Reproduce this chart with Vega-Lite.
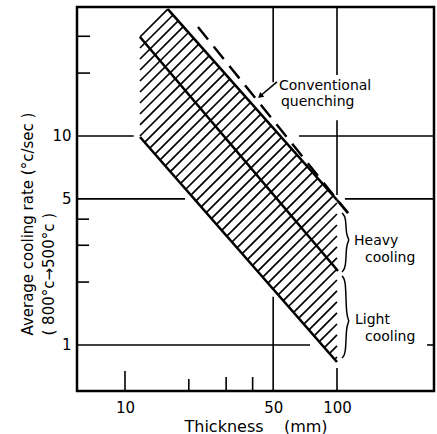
{
  "$schema": "https://vega.github.io/schema/vega-lite/v6.json",
  "width": 357,
  "height": 384,
  "autosize": {"type": "none"},
  "padding": {"left": 77, "top": 7, "right": 3, "bottom": 43},
  "background": "white",
  "config": {
    "font": "DejaVu Sans",
    "view": {"stroke": "black", "strokeWidth": 2.5},
    "axis": {"labelFont": "DejaVu Sans", "titleFont": "DejaVu Sans", "labelColor": "black", "titleColor": "black", "titleFontWeight": "normal"}
  },
  "datasets": {
    "grid": [
      {"x": 5.938, "x2": 11.0, "y": 10, "y2": 10},
      {"x": 66.2, "x2": 286.8, "y": 10, "y2": 10},
      {"x": 5.938, "x2": 19.2, "y": 5, "y2": 5},
      {"x": 109, "x2": 286.8, "y": 5, "y2": 5},
      {"x": 5.938, "x2": 74.6, "y": 1, "y2": 1},
      {"x": 266, "x2": 286.8, "y": 1, "y2": 1},
      {"x": 50, "x2": 50, "y": 41.42, "y2": 18.1},
      {"x": 50, "x2": 50, "y": 0.6022, "y2": 1.70},
      {"x": 100, "x2": 100, "y": 41.42, "y2": 19.6},
      {"x": 100, "x2": 100, "y": 11.9, "y2": 5.22},
      {"x": 100, "x2": 100, "y": 0.6022, "y2": 0.776},
      {"x": 10, "x2": 10, "y": 0.6022, "y2": 0.751},
      {"x": 20, "x2": 20, "y": 0.6022, "y2": 0.688},
      {"x": 30, "x2": 30, "y": 0.6022, "y2": 0.703},
      {"x": 40, "x2": 40, "y": 0.6022, "y2": 0.703},
      {"x": 5.938, "x2": 6.84, "y": 30, "y2": 30},
      {"x": 5.938, "x2": 6.84, "y": 20, "y2": 20},
      {"x": 5.938, "x2": 6.77, "y": 4, "y2": 4},
      {"x": 5.938, "x2": 6.77, "y": 3, "y2": 3},
      {"x": 5.938, "x2": 6.77, "y": 2, "y2": 2}
    ],
    "hatch": [
      {"x": 11.77, "y": 29.76, "x2": 15.92, "y2": 40.43},
      {"x": 11.77, "y": 26.37, "x2": 16.84, "y2": 37.92},
      {"x": 11.77, "y": 23.36, "x2": 17.81, "y2": 35.56},
      {"x": 11.77, "y": 20.69, "x2": 18.84, "y2": 33.34},
      {"x": 11.77, "y": 18.33, "x2": 19.93, "y2": 31.27},
      {"x": 11.77, "y": 16.24, "x2": 21.08, "y2": 29.32},
      {"x": 11.77, "y": 14.38, "x2": 22.29, "y2": 27.50},
      {"x": 11.77, "y": 12.74, "x2": 23.58, "y2": 25.79},
      {"x": 11.77, "y": 11.29, "x2": 24.94, "y2": 24.18},
      {"x": 11.77, "y": 10.00, "x2": 26.38, "y2": 22.68},
      {"x": 12.38, "y": 9.326, "x2": 27.91, "y2": 21.27},
      {"x": 13.09, "y": 8.743, "x2": 29.52, "y2": 19.94},
      {"x": 13.84, "y": 8.196, "x2": 31.22, "y2": 18.70},
      {"x": 14.64, "y": 7.683, "x2": 33.03, "y2": 17.54},
      {"x": 15.48, "y": 7.202, "x2": 34.94, "y2": 16.45},
      {"x": 16.36, "y": 6.752, "x2": 36.95, "y2": 15.42},
      {"x": 17.30, "y": 6.329, "x2": 39.09, "y2": 14.46},
      {"x": 18.30, "y": 5.933, "x2": 41.34, "y2": 13.57},
      {"x": 19.35, "y": 5.562, "x2": 43.73, "y2": 12.72},
      {"x": 20.46, "y": 5.214, "x2": 46.26, "y2": 11.93},
      {"x": 21.63, "y": 4.888, "x2": 48.93, "y2": 11.19},
      {"x": 22.87, "y": 4.582, "x2": 51.75, "y2": 10.49},
      {"x": 24.18, "y": 4.295, "x2": 54.74, "y2": 9.838},
      {"x": 25.57, "y": 4.027, "x2": 57.90, "y2": 9.226},
      {"x": 27.03, "y": 3.775, "x2": 61.25, "y2": 8.652},
      {"x": 28.59, "y": 3.538, "x2": 64.79, "y2": 8.114},
      {"x": 30.23, "y": 3.317, "x2": 68.53, "y2": 7.609},
      {"x": 31.96, "y": 3.110, "x2": 72.49, "y2": 7.136},
      {"x": 33.79, "y": 2.915, "x2": 76.67, "y2": 6.691},
      {"x": 35.73, "y": 2.733, "x2": 81.10, "y2": 6.275},
      {"x": 37.78, "y": 2.562, "x2": 85.78, "y2": 5.885},
      {"x": 39.95, "y": 2.401, "x2": 90.74, "y2": 5.519},
      {"x": 42.24, "y": 2.251, "x2": 95.98, "y2": 5.175},
      {"x": 44.66, "y": 2.110, "x2": 100, "y2": 4.780},
      {"x": 47.22, "y": 1.978, "x2": 100, "y2": 4.234},
      {"x": 49.93, "y": 1.854, "x2": 100, "y2": 3.751},
      {"x": 52.80, "y": 1.738, "x2": 100, "y2": 3.323},
      {"x": 55.83, "y": 1.630, "x2": 100, "y2": 2.944},
      {"x": 59.03, "y": 1.528, "x2": 100, "y2": 2.608},
      {"x": 62.41, "y": 1.432, "x2": 100, "y2": 2.310},
      {"x": 65.99, "y": 1.343, "x2": 100, "y2": 2.046},
      {"x": 69.78, "y": 1.259, "x2": 100, "y2": 1.813},
      {"x": 73.78, "y": 1.180, "x2": 100, "y2": 1.606},
      {"x": 78.01, "y": 1.106, "x2": 100, "y2": 1.423},
      {"x": 82.49, "y": 1.037, "x2": 100, "y2": 1.260},
      {"x": 87.22, "y": 0.972, "x2": 100, "y2": 1.117},
      {"x": 92.22, "y": 0.911, "x2": 100, "y2": 0.989},
      {"x": 97.52, "y": 0.854, "x2": 100, "y2": 0.876}
    ],
    "band": [
      {"line": "upper", "x": 15.92, "y": 40.43, "x2": 100, "y2": 4.94},
      {"line": "middle", "x": 11.77, "y": 29.76, "x2": 101.1, "y2": 2.26},
      {"line": "lower", "x": 11.77, "y": 9.89, "x2": 100, "y2": 0.829},
      {"line": "merge", "x": 100, "y": 4.94, "x2": 112.7, "y2": 4.28}
    ],
    "quench": [
      {"x": 22.10, "y": 33.23, "x2": 112.7, "y2": 4.28}
    ],
    "arrow": [
      {"x": 52.1, "y": 18.13, "x2": 43.6, "y2": 15.58}
    ],
    "arrowhead": [
      {"x": 43.4, "y": 15.5}
    ],
    "braces": [
      {"brace": "heavy", "order": 1, "x": 105.6, "y": 4.281},
      {"brace": "heavy", "order": 2, "x": 110.3, "y": 4.098},
      {"brace": "heavy", "order": 3, "x": 110.3, "y": 3.323},
      {"brace": "heavy", "order": 4, "x": 115.2, "y": 3.180},
      {"brace": "heavy", "order": 5, "x": 110.3, "y": 3.043},
      {"brace": "heavy", "order": 6, "x": 110.3, "y": 2.336},
      {"brace": "heavy", "order": 7, "x": 105.6, "y": 2.236},
      {"brace": "light", "order": 1, "x": 105.6, "y": 2.139},
      {"brace": "light", "order": 2, "x": 110.3, "y": 2.046},
      {"brace": "light", "order": 3, "x": 110.3, "y": 1.361},
      {"brace": "light", "order": 4, "x": 115.2, "y": 1.303},
      {"brace": "light", "order": 5, "x": 110.3, "y": 1.247},
      {"brace": "light", "order": 6, "x": 110.3, "y": 0.906},
      {"brace": "light", "order": 7, "x": 105.6, "y": 0.867}
    ],
    "labels": [
      {"x": 53.25, "y": 16.62, "text": "Conventional"},
      {"x": 54.4, "y": 13.92, "text": "quenching"},
      {"x": 120.3, "y": 3.009, "text": "Heavy"},
      {"x": 135.5, "y": 2.495, "text": "cooling"},
      {"x": 121.6, "y": 1.260, "text": "Light"},
      {"x": 135.5, "y": 1.045, "text": "cooling"}
    ]
  },
  "layer": [
    {
      "data": {"name": "grid"},
      "mark": {"type": "rule", "color": "black", "strokeWidth": 1.6},
      "encoding": {
        "x": {"field": "x", "type": "quantitative",
              "scale": {"type": "log", "domain": [5.938, 286.8], "nice": false, "zero": false},
              "axis": {"values": [10, 50, 100], "format": "d", "grid": false, "ticks": false, "tickSize": 0, "domain": false,
                       "labelFontSize": 15, "labelPadding": 9,
                       "title": "Thickness\u00a0\u00a0\u00a0\u00a0(mm)", "titleFontSize": 16, "titlePadding": 3}},
        "y": {"field": "y", "type": "quantitative",
              "scale": {"type": "log", "domain": [0.6022, 41.42], "nice": false, "zero": false},
              "axis": {"values": [1, 5, 10], "format": "d", "grid": false, "ticks": false, "tickSize": 0, "domain": false,
                       "labelFontSize": 15, "labelPadding": 6,
                       "title": ["Average cooling rate (°c/sec )", "\u00a0\u00a0\u00a0\u00a0( 800°c→500°c )"],
                       "titleFontSize": 15, "titleLineHeight": 21, "titleAngle": 270,
                       "titleAlign": "left", "titleBaseline": "middle", "titleX": -50, "titleY": 328}},
        "x2": {"field": "x2"},
        "y2": {"field": "y2"}
      }
    },
    {
      "data": {"name": "hatch"},
      "mark": {"type": "rule", "color": "black", "strokeWidth": 1.7},
      "encoding": {
        "x": {"field": "x", "type": "quantitative"},
        "y": {"field": "y", "type": "quantitative"},
        "x2": {"field": "x2"},
        "y2": {"field": "y2"}
      }
    },
    {
      "data": {"name": "band"},
      "mark": {"type": "rule", "color": "black", "strokeWidth": 2.6},
      "encoding": {
        "x": {"field": "x", "type": "quantitative"},
        "y": {"field": "y", "type": "quantitative"},
        "x2": {"field": "x2"},
        "y2": {"field": "y2"}
      }
    },
    {
      "data": {"name": "quench"},
      "mark": {"type": "rule", "color": "black", "strokeWidth": 2.4, "strokeDash": [16, 9]},
      "encoding": {
        "x": {"field": "x", "type": "quantitative"},
        "y": {"field": "y", "type": "quantitative"},
        "x2": {"field": "x2"},
        "y2": {"field": "y2"}
      }
    },
    {
      "data": {"name": "arrow"},
      "mark": {"type": "rule", "color": "black", "strokeWidth": 1.6},
      "encoding": {
        "x": {"field": "x", "type": "quantitative"},
        "y": {"field": "y", "type": "quantitative"},
        "x2": {"field": "x2"},
        "y2": {"field": "y2"}
      }
    },
    {
      "data": {"name": "arrowhead"},
      "mark": {"type": "point", "shape": "triangle-up", "filled": true, "color": "black", "size": 40, "angle": 230, "opacity": 1},
      "encoding": {
        "x": {"field": "x", "type": "quantitative"},
        "y": {"field": "y", "type": "quantitative"}
      }
    },
    {
      "data": {"name": "braces"},
      "mark": {"type": "line", "color": "black", "strokeWidth": 1.5, "interpolate": "basis"},
      "encoding": {
        "x": {"field": "x", "type": "quantitative"},
        "y": {"field": "y", "type": "quantitative"},
        "detail": {"field": "brace"},
        "order": {"field": "order", "type": "quantitative"}
      }
    },
    {
      "data": {"name": "labels"},
      "mark": {"type": "text", "align": "left", "baseline": "alphabetic", "fontSize": 14, "color": "black", "font": "DejaVu Sans"},
      "encoding": {
        "x": {"field": "x", "type": "quantitative"},
        "y": {"field": "y", "type": "quantitative"},
        "text": {"field": "text"}
      }
    }
  ]
}
